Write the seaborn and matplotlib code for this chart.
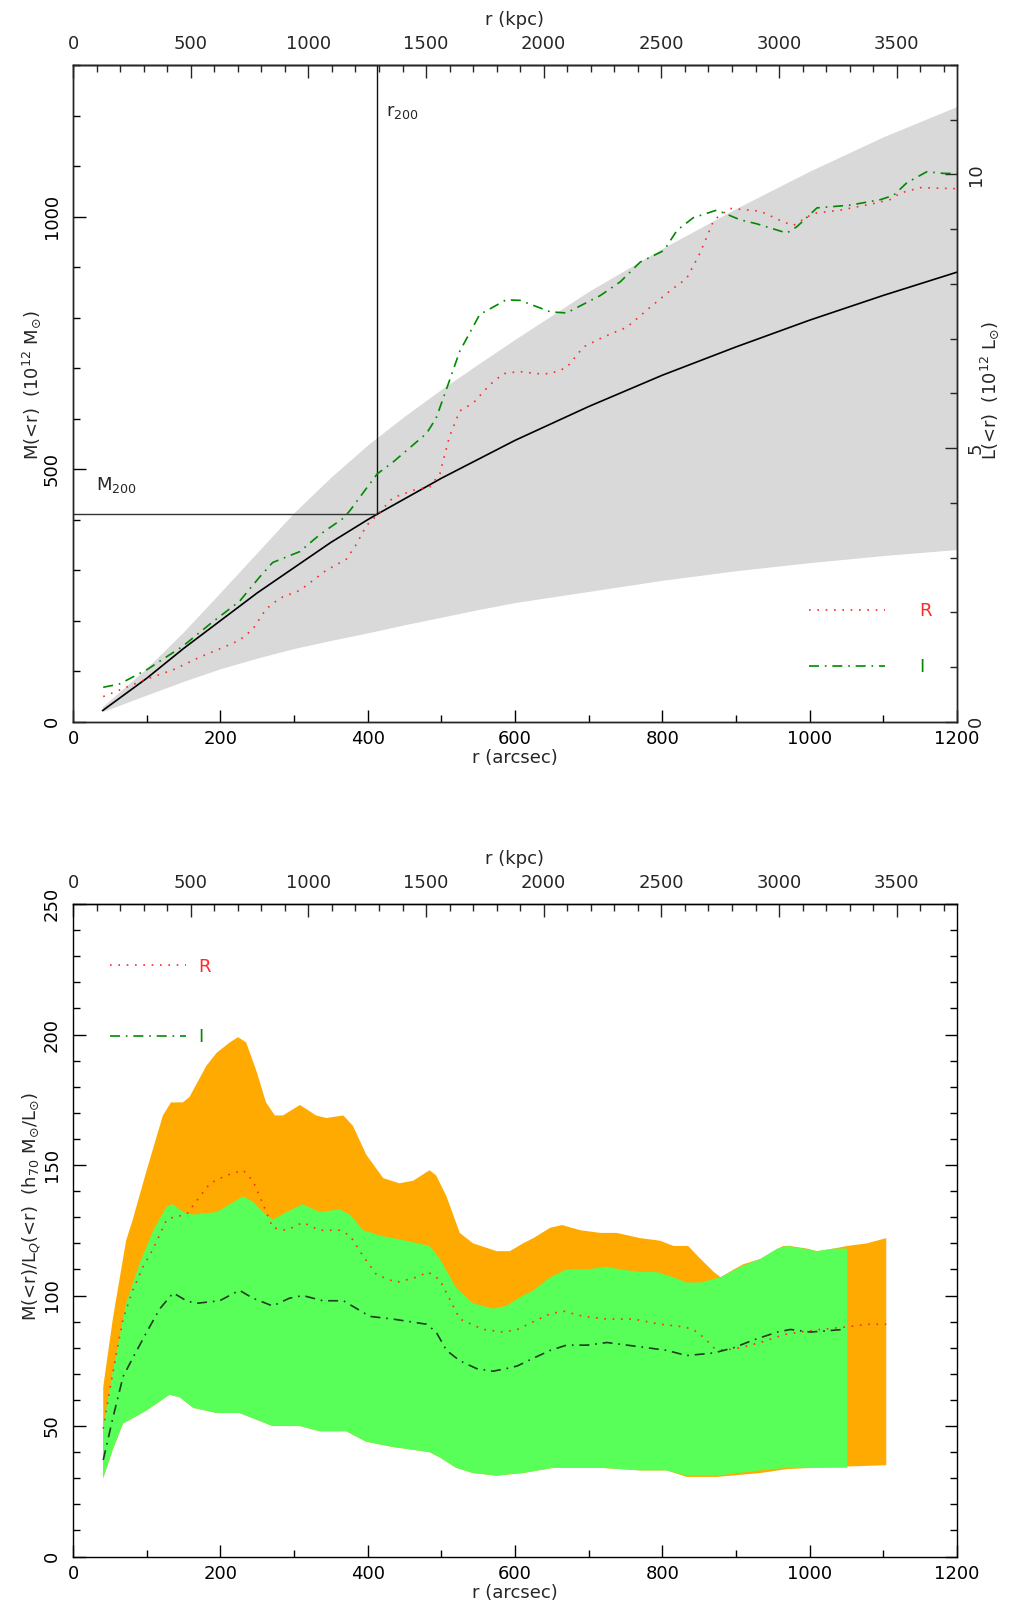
import matplotlib
matplotlib.use("Agg")
import matplotlib.pyplot as plt
from matplotlib.ticker import MultipleLocator, FixedLocator
import seaborn as sns

# conversion factors
KPC_PER_ARCSEC = 3.13
M_PER_L = 1300.0 / 12.0

# ---------------- top panel: M(<r) and L(<r) ----------------
band_r = [40, 100, 150, 200, 250, 300, 350, 400, 450, 500, 550, 600, 700, 800, 900, 1000, 1100, 1200]
band_hi = [30, 106, 178, 256, 335, 414, 484, 548, 605, 658, 708, 757, 852, 937, 1016, 1090, 1158, 1218]
band_lo = [20, 53, 80, 105, 126, 145, 161, 176, 192, 207, 222, 236, 258, 280, 299, 315, 329, 341]

nfw_r = [40, 100, 150, 200, 250, 300, 350, 400, 413, 500, 600, 700, 800, 900, 1000, 1100, 1200]
nfw_m = [22, 86, 145, 200, 255, 305, 355, 400, 411, 482, 557, 624, 686, 742, 795, 844, 890]

r200 = 413
m200 = 411

lum_r_x = [41, 100, 136, 172, 204, 226, 244, 262, 281, 308, 344, 371, 385, 398, 413, 434,
           462, 484, 498, 511, 525, 543, 566, 584, 606, 630, 648, 670, 693, 720, 752, 784,
           811, 833, 851, 870, 892, 933, 965, 978, 1005, 1042, 1087, 1109, 1123, 1150, 1200]
lum_r_y = [0.46, 0.78, 0.95, 1.18, 1.36, 1.49, 1.69, 2.06, 2.26, 2.40, 2.77, 2.97, 3.25, 3.58,
           3.78, 4.09, 4.23, 4.29, 4.53, 5.21, 5.68, 5.82, 6.16, 6.36, 6.40, 6.36, 6.36, 6.47,
           6.85, 7.03, 7.21, 7.58, 7.88, 8.10, 8.56, 9.17, 9.38, 9.33, 9.13, 9.07, 9.29, 9.35,
           9.47, 9.54, 9.66, 9.76, 9.74]

lum_i_x = [41, 63, 100, 149, 190, 226, 253, 271, 308, 335, 367, 376, 398, 413, 434, 480,
           493, 507, 525, 552, 588, 607, 648, 670, 716, 743, 770, 802, 820, 842, 874, 906,
           928, 969, 983, 1010, 1055, 1096, 1114, 1132, 1159, 1182, 1200]
lum_i_y = [0.63, 0.69, 0.95, 1.38, 1.83, 2.20, 2.64, 2.91, 3.11, 3.42, 3.72, 3.86, 4.26, 4.53,
           4.74, 5.27, 5.55, 6.08, 6.77, 7.44, 7.71, 7.70, 7.49, 7.47, 7.79, 8.04, 8.40, 8.61,
           8.98, 9.21, 9.35, 9.17, 9.10, 8.93, 9.05, 9.39, 9.44, 9.54, 9.62, 9.85, 10.05,
           10.02, 10.02]

# ---------------- bottom panel: M/L ----------------
orange_x = [41, 54, 72, 81, 100, 122, 133, 149, 158, 181, 195, 213, 224, 235, 249, 262, 274,
            285, 308, 330, 344, 367, 380, 398, 421, 443, 462, 484, 493, 507, 525, 543, 575,
            593, 611, 625, 648, 664, 689, 716, 738, 770, 797, 815, 835, 852, 870, 879, 897,
            910, 933, 964, 973, 996, 1010, 1033, 1051, 1078, 1104]
orange_hi = [65, 91, 121, 129, 148, 169, 174, 174, 176, 188, 193, 197, 199, 197, 186, 174, 169,
             169, 173, 169, 168, 169, 165, 154, 145, 143, 144, 148, 146, 138, 124, 120, 117,
             117, 120, 122, 126, 127, 125, 124, 124, 122, 121, 119, 119, 114, 109, 107, 110,
             112, 114, 119, 119, 118, 117, 118, 119, 120, 122]

orange_lo_x = [41, 54, 68, 81, 100, 131, 145, 163, 195, 226, 244, 271, 308, 335, 371, 398,
               434, 484, 498, 520, 543, 575, 611, 652, 716, 770, 806, 833, 874, 933, 969,
               1005, 1051, 1104]
orange_lo = [30, 41, 51, 53, 56, 62, 61, 57, 55, 55, 53, 50, 50, 48, 48, 44, 42, 40, 38, 34,
             32, 31, 32, 34, 34, 33, 33, 30.5, 30.5, 32, 33.5, 34, 34.5, 35]

green_x = [41, 54, 72, 90, 109, 127, 136, 149, 163, 195, 213, 231, 244, 258, 271, 290, 312,
           335, 362, 376, 394, 416, 452, 484, 498, 520, 543, 570, 588, 611, 625, 648, 670,
           698, 725, 743, 770, 792, 815, 833, 852, 879, 906, 933, 956, 969, 992, 1010, 1033,
           1051]
green_hi = [50, 71, 97, 112, 125, 134, 135, 132, 131, 132, 135, 138, 136, 132, 129, 132, 135,
            132, 133, 131, 125, 123, 121, 119, 114, 103, 97, 95, 96, 100, 102, 107, 110, 110,
            111, 110, 109, 109, 107, 105, 105, 107, 111, 114, 118, 119, 118, 117, 118, 118]

green_lo_x = [41, 54, 68, 81, 100, 131, 145, 163, 195, 226, 244, 271, 308, 335, 371, 398, 434,
              484, 498, 520, 543, 575, 611, 652, 716, 770, 806, 833, 874, 933, 969, 1005, 1051]
green_lo = [30, 41, 51, 53, 56, 62, 61, 57, 55, 55, 53, 50, 50, 48, 48, 44, 42, 40, 38, 34,
            32, 31, 32, 34, 34, 33, 33, 31, 31, 33, 34, 34, 34]

ml_r_x = [41, 50, 59, 68, 81, 95, 109, 127, 136, 154, 167, 186, 208, 231, 244, 258, 271, 290,
          312, 335, 362, 376, 394, 412, 439, 466, 482, 498, 507, 525, 557, 584, 603, 625, 648,
          666, 693, 725, 761, 797, 829, 842, 856, 870, 883, 906, 933, 965, 987, 1014, 1051,
          1078, 1104]
ml_r_y = [49, 64, 78, 91, 102, 111, 118, 129, 130, 131, 136, 143, 146, 148, 144, 135, 126,
          125, 128, 125, 125, 123, 115, 108, 105, 107, 109, 106, 101, 91, 87, 86, 87, 90, 93,
          94, 92, 91, 91, 89, 88, 87, 84, 80, 79, 80, 82, 85, 86, 87, 88, 89, 89]

ml_i_x = [41, 54, 68, 81, 100, 118, 136, 154, 167, 199, 226, 244, 271, 294, 312, 339, 367,
          385, 403, 434, 480, 493, 507, 525, 548, 570, 588, 603, 625, 648, 670, 698, 725, 752,
          779, 806, 833, 870, 897, 924, 956, 974, 1001, 1046]
ml_i_y = [37, 53, 69, 76, 86, 95, 101, 98, 97, 98, 102, 99, 96, 99, 100, 98, 98, 95, 92, 91,
          89, 86, 79, 75, 72, 71, 72, 73, 76, 79, 81, 81, 82, 81, 80, 79, 77, 78, 80, 83, 86,
          87, 86, 87]

sns.set_style("ticks")
plt.rcParams['font.family'] = ['DejaVu Sans']
plt.rcParams['mathtext.fontset'] = 'dejavusans'
plt.rcParams['axes.linewidth'] = 1.0

FS = 13
DOT = (0, (1, 4))
DASHDOT = (0, (6, 3.5, 1, 3.5))
RED = '#ff2a2a'
GREEN = '#008a00'

fig = plt.figure(figsize=(10.1, 16.1), dpi=100)
ax1 = fig.add_axes([0.0723, 0.5517, 0.8752, 0.4079])
ax2 = fig.add_axes([0.0723, 0.0332, 0.8752, 0.4053])


def style(ax, ymaj, ymin):
    ax.set_xlim(0, 1200)
    ax.xaxis.set_major_locator(MultipleLocator(200))
    ax.xaxis.set_minor_locator(MultipleLocator(100))
    ax.yaxis.set_major_locator(MultipleLocator(ymaj))
    ax.yaxis.set_minor_locator(MultipleLocator(ymin))
    ax.tick_params(which='both', direction='in', labelsize=FS, colors='black')
    ax.tick_params(which='major', length=9, width=1)
    ax.tick_params(which='minor', length=5, width=1)
    ax.tick_params(axis='x', pad=6)
    ax.tick_params(axis='y', pad=9)
    plt.setp(ax.get_yticklabels(), rotation=90, va='center')
    for s in ax.spines.values():
        s.set_color('black')
    sec = ax.secondary_xaxis('top', functions=(lambda a: a * KPC_PER_ARCSEC,
                                               lambda k: k / KPC_PER_ARCSEC))
    sec.xaxis.set_major_locator(FixedLocator(range(0, 3501, 500)))
    sec.xaxis.set_minor_locator(FixedLocator(range(0, 3701, 100)))
    sec.tick_params(which='both', direction='in', labelsize=FS, pad=9)
    sec.tick_params(which='major', length=9, width=1)
    sec.tick_params(which='minor', length=5, width=1)
    sec.set_xlabel('r (kpc)', fontsize=FS, labelpad=7)
    ax.set_xlabel('r (arcsec)', fontsize=FS, labelpad=1)
    return sec


# ---- top ----
ax1.fill_between(band_r, band_lo, band_hi, color='#d9d9d9', lw=0, zorder=1)
sns.lineplot(x=nfw_r, y=nfw_m, ax=ax1, color='black', lw=1.2, estimator=None, sort=False)
ax1.plot([0, r200], [m200, m200], color='#333333', lw=1.0)
ax1.plot([r200, r200], [m200, 1300], color='#111111', lw=1.0)
ax1.set_ylim(0, 1300)
style(ax1, 500, 100)
ax1.set_ylabel('M(<r)  (10$^{12}$ M$_{\\odot}$)', fontsize=FS)
ax1.yaxis.set_label_coords(-0.0334, 0.513)
ax1.text(r200 + 12, 1208, 'r$_{200}$', fontsize=FS, va='center', ha='left')
ax1.text(31, 468, 'M$_{200}$', fontsize=FS, va='center', ha='left')

ax1r = ax1.twinx()
sns.lineplot(x=lum_r_x, y=lum_r_y, ax=ax1r, color=RED, lw=1.2, linestyle=DOT,
             estimator=None, sort=False, label='R')
sns.lineplot(x=lum_i_x, y=lum_i_y, ax=ax1r, color=GREEN, lw=1.2, linestyle=DASHDOT,
             estimator=None, sort=False, label='I')
ax1r.set_ylim(0, 12)
ax1r.yaxis.set_major_locator(MultipleLocator(5))
ax1r.yaxis.set_minor_locator(MultipleLocator(1))
ax1r.tick_params(which='both', direction='in', labelsize=FS, pad=7)
ax1r.tick_params(which='major', length=9, width=1)
ax1r.tick_params(which='minor', length=5, width=1)
plt.setp(ax1r.get_yticklabels(), rotation=90, va='center')
ax1r.set_ylabel('L(<r)  (10$^{12}$ L$_{\\odot}$)', fontsize=FS, rotation=90)
ax1r.yaxis.set_label_coords(1.0242, 0.505)
leg = ax1r.legend(loc='center left', bbox_to_anchor=(0.8326, 0.126), frameon=False,
                  fontsize=FS, handlelength=4.2, handletextpad=1.9, labelspacing=2.1,
                  borderpad=0, borderaxespad=0, labelcolor='linecolor')

# ---- bottom ----
ax2.fill(orange_x + orange_lo_x[::-1], orange_hi + orange_lo[::-1],
         color='#ffaa00', lw=0, zorder=1)
ax2.fill(green_x + green_lo_x[::-1], green_hi + green_lo[::-1],
         color='#59ff59', lw=0, zorder=1.2)
sns.lineplot(x=ml_r_x, y=ml_r_y, ax=ax2, color=RED, lw=1.2, linestyle=DOT,
             estimator=None, sort=False, label='R')
sns.lineplot(x=ml_i_x, y=ml_i_y, ax=ax2, color='#1e3d1e', lw=1.2, linestyle=DASHDOT,
             estimator=None, sort=False, label='I')
ax2.set_ylim(0, 250)
style(ax2, 50, 10)
ax2.tick_params(which='both', right=True)
ax2.set_ylabel('M(<r)/L$_Q$(<r)  (h$_{70}$ M$_{\\odot}$/L$_{\\odot}$)', fontsize=FS)
ax2.yaxis.set_label_coords(-0.0334, 0.537)
handles, labels = ax2.get_legend_handles_labels()
leg2 = ax2.legend(handles, labels, loc='center left', bbox_to_anchor=(0.0419, 0.850),
                  frameon=False, fontsize=FS, handlelength=4.2, handletextpad=0.7,
                  labelspacing=2.9, borderpad=0, borderaxespad=0)
leg2.get_lines()[1].set_color(GREEN)
leg2.get_texts()[0].set_color(RED)
leg2.get_texts()[1].set_color(GREEN)

fig.savefig('out.png', dpi=100)
